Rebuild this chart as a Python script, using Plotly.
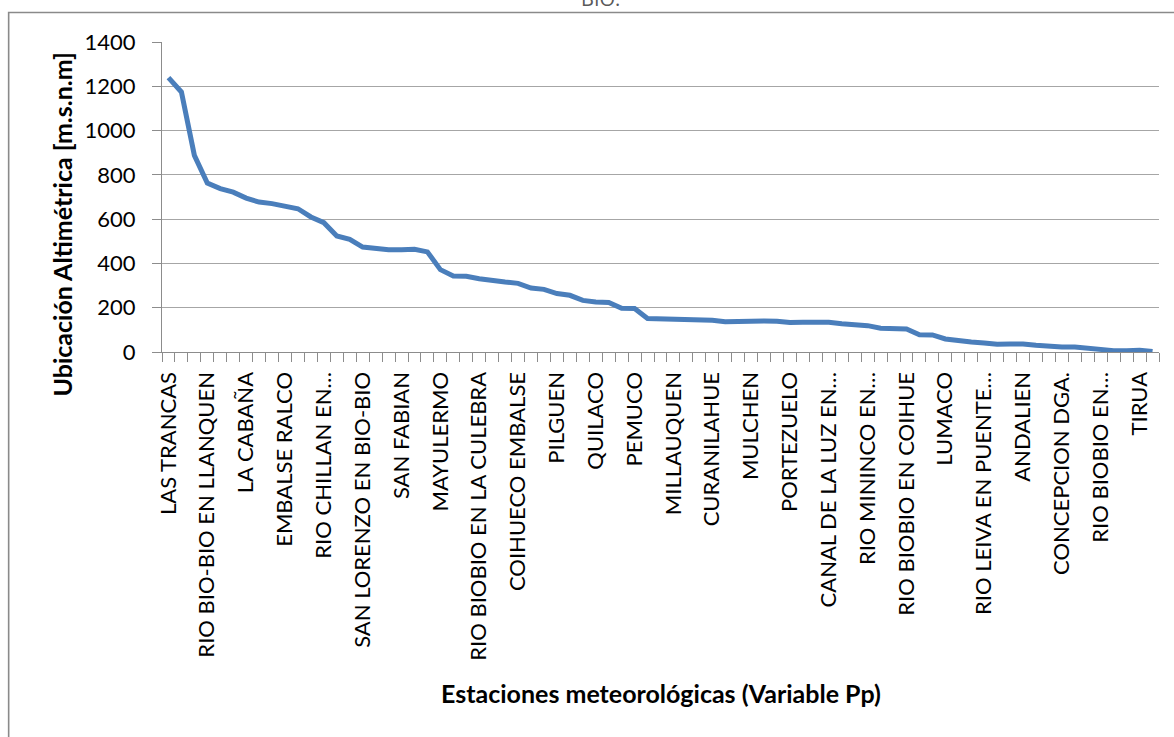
import plotly.graph_objects as go

# Altitude of each meteorological station (m.s.n.m), ordered from highest to lowest
altitudes = [
    1239, 1174, 888, 763, 738, 722, 695, 677, 670, 658,
    647, 610, 584, 524, 509, 474, 467, 462, 462, 464,
    452, 372, 343, 342, 331, 322, 316, 310, 289, 283,
    264, 256, 233, 226, 224, 197, 196, 151, 149, 150,
    146, 148, 143, 137, 139, 140, 140, 139, 133, 134,
    134, 134, 128, 125, 119, 107, 107, 104, 78, 77,
    59, 51, 45, 41, 35, 36, 36, 30, 24, 23,
    23, 17, 12, 6, 6, 8, 2,
]
station_index = list(range(len(altitudes)))

# Station names shown on the category axis (every third station is labelled)
label_step = 3
station_labels = [
    "LAS TRANCAS", "RIO BIO-BIO EN LLANQUEN", "LA CABAÑA", "EMBALSE RALCO",
    "RIO CHILLAN EN…", "SAN LORENZO EN BIO-BIO", "SAN FABIAN", "MAYULERMO",
    "RIO BIOBIO EN LA CULEBRA", "COIHUECO EMBALSE", "PILGUEN", "QUILACO",
    "PEMUCO", "MILLAUQUEN", "CURANILAHUE", "MULCHEN", "PORTEZUELO",
    "CANAL DE LA LUZ EN…", "RIO MININCO EN…", "RIO BIOBIO EN COIHUE", "LUMACO",
    "RIO LEIVA EN PUENTE…", "ANDALIEN", "CONCEPCION DGA.", "RIO BIOBIO EN…", "TIRUA",
]
label_positions = [i * label_step for i in range(len(station_labels))]

y_ticks = list(range(0, 1401, 200))

FONT = "Lato, 'DejaVu Sans', sans-serif"
AXIS_GREY = "#8c8c8c"
GRID_GREY = "#a6a6a6"

fig = go.Figure()
fig.add_trace(go.Scatter(
    x=station_index,
    y=altitudes,
    mode="lines",
    line=dict(color="#4a7ebb", width=5),
    hoverinfo="x+y",
))

fig.update_xaxes(
    range=[-0.5, len(altitudes) - 0.5],
    tickmode="array",
    tickvals=label_positions,
    ticktext=station_labels,
    tickangle=-90,
    ticks="",
    ticklabelstandoff=10,
    tickfont=dict(family=FONT, size=22, color="#000000"),
    showgrid=False,
    showline=True,
    linecolor=AXIS_GREY,
    linewidth=1.3,
    zeroline=False,
    minor=dict(
        tickmode="linear", tick0=-0.5, dtick=1,
        ticks="outside", ticklen=9, tickcolor=AXIS_GREY, tickwidth=1.2,
        showgrid=False,
    ),
)
fig.update_yaxes(
    range=[0, 1400],
    tickmode="array",
    tickvals=y_ticks,
    ticks="outside",
    ticklen=9,
    tickcolor=AXIS_GREY,
    tickwidth=1.2,
    ticklabelstandoff=12,
    tickfont=dict(family=FONT, size=22, color="#000000"),
    showgrid=True,
    gridcolor=GRID_GREY,
    gridwidth=1.2,
    showline=True,
    linecolor=AXIS_GREY,
    linewidth=1.3,
    zeroline=False,
)

# Chart frame (only top and left edges fall inside the page)
fig.add_shape(
    type="rect", xref="paper", yref="paper",
    x0=-0.1538, x1=1.2, y0=-2.0, y1=1.095,
    line=dict(color="#8a8a8a", width=1.6),
    fillcolor="rgba(0,0,0,0)", layer="below",
)

# Title tail, axis titles
fig.add_annotation(
    text="BIO.", xref="paper", yref="paper", x=0.44, y=1.09,
    xanchor="center", yanchor="bottom", showarrow=False,
    font=dict(family="'Open Sans', sans-serif", size=20, color="#595959"),
)
fig.add_annotation(
    text="<b>Ubicación Altimétrica [m.s.n.m]</b>", xref="paper", yref="paper",
    x=-0.1006, y=0.41, textangle=-90, xanchor="center", yanchor="middle",
    showarrow=False, font=dict(family=FONT, size=25, color="#000000"),
)
fig.add_annotation(
    text="<b>Estaciones meteorológicas (Variable Pp)</b>", xref="paper", yref="paper",
    x=0.5, y=-1.1, xanchor="center", yanchor="middle",
    showarrow=False, font=dict(family=FONT, size=25, color="#000000"),
)

fig.update_layout(
    width=1174,
    height=737,
    margin=dict(l=162, r=15, t=42, b=385),
    paper_bgcolor="#ffffff",
    plot_bgcolor="#ffffff",
    showlegend=False,
)

fig.write_html("out.html")
